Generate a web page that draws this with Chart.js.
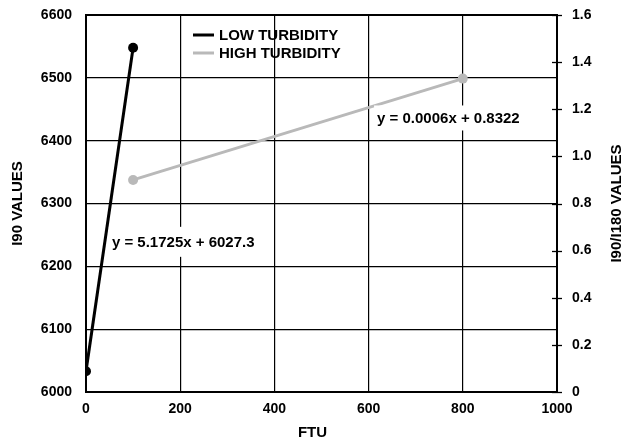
<!DOCTYPE html>
<html><head><meta charset="utf-8">
<script src="https://cdn.jsdelivr.net/npm/chart.js@4/dist/chart.umd.min.js"></script>
<style>html,body{margin:0;padding:0;background:#fff}canvas{display:block}</style>
</head><body><canvas id="c" width="630" height="440"></canvas>
<script>
// ---- data ----
const ftuLow = [0, 100];
const i90Low = [6033, 6548];
const ftuHigh = [100, 800];
const ratioHigh = [0.90, 1.33];
const seriesNames = ['LOW TURBIDITY', 'HIGH TURBIDITY'];
const fitLabels = ['y = 5.1725x + 6027.3', 'y = 0.0006x + 0.8322'];
const axisTitles = ['FTU', 'I90 VALUES', 'I90/I180 VALUES'];

const FONT = '"Liberation Sans", Arial, Helvetica, sans-serif';
Chart.defaults.font.family = FONT;
Chart.defaults.font.weight = 'bold';
Chart.defaults.color = '#000';

const lowData = ftuLow.map((x, i) => ({x: x, y: i90Low[i]}));
const highData = ftuHigh.map((x, i) => ({x: x, y: ratioHigh[i]}));

const framePlugin = {
  id: 'frame',
  beforeDatasetsDraw(chart) {
    const {ctx, chartArea: a} = chart;
    ctx.save();
    ctx.strokeStyle = '#000';
    ctx.lineWidth = 2;
    ctx.strokeRect(a.left, a.top, a.right - a.left, a.bottom - a.top);
    // right axis tick marks crossing the border
    const s = chart.scales.y1;
    ctx.lineWidth = 1.3;
    s.ticks.forEach(t => {
      const y = Math.round(s.getPixelForValue(t.value)) + 0.5;
      ctx.beginPath();
      ctx.moveTo(a.right - 5, y);
      ctx.lineTo(a.right + 5, y);
      ctx.stroke();
    });
    ctx.font = 'bold 15px ' + FONT;
    ctx.fillStyle = '#000';
    ctx.textAlign = 'center';
    ctx.textBaseline = 'middle';
    // x axis title
    ctx.fillText(axisTitles[0], (a.left + a.right) / 2 - 9, chart.height - 7);
    // right axis title, reading bottom to top
    ctx.translate(s.right - 13, (a.top + a.bottom) / 2);
    ctx.rotate(-Math.PI / 2);
    ctx.fillText(axisTitles[2], 0, 0);
    ctx.restore();
  }
};

const overlayPlugin = {
  id: 'overlay',
  afterDatasetsDraw(chart, args, opts) {
    const {ctx, chartArea: a} = chart;
    ctx.save();
    ctx.font = 'bold 15px ' + FONT;
    ctx.textBaseline = 'middle';
    ctx.textAlign = 'left';
    opts.notes.forEach(n => {
      const xs = chart.scales.x, ys = chart.scales[n.axis];
      const px = xs.getPixelForValue(n.x), py = ys.getPixelForValue(n.y);
      const w = ctx.measureText(n.text).width;
      ctx.fillStyle = '#fff';
      ctx.fillRect(px - 3, py - n.h / 2, w + 6, n.h);
      ctx.fillStyle = '#000';
      ctx.fillText(n.text, px, py + 1);
    });
    // legend
    const lx = a.left + 107, ly = a.top + 20;
    chart.data.datasets.forEach((d, i) => {
      const y = ly + i * 18;
      ctx.strokeStyle = d.borderColor;
      ctx.lineWidth = 3;
      ctx.beginPath();
      ctx.moveTo(lx, y);
      ctx.lineTo(lx + 21, y);
      ctx.stroke();
      ctx.fillStyle = '#000';
      ctx.fillText(d.label, lx + 26, y + 1);
    });
    ctx.restore();
  }
};

function fixV(w) {
  return function (s) { s.width = w; s.paddingTop = 8; s.paddingBottom = 8; };
}

new Chart(document.getElementById('c'), {
  type: 'line',
  data: {
    datasets: [
      {label: seriesNames[0], data: lowData, yAxisID: 'y', borderColor: '#000', backgroundColor: '#000',
       borderWidth: 3, pointRadius: 5, pointBackgroundColor: '#000', pointBorderWidth: 0, tension: 0},
      {label: seriesNames[1], data: highData, yAxisID: 'y1', borderColor: '#b9b9b9', backgroundColor: '#b9b9b9',
       borderWidth: 3, pointRadius: 5, pointBackgroundColor: '#b9b9b9', pointBorderWidth: 0, tension: 0}
    ]
  },
  options: {
    responsive: false,
    animation: false,
    layout: {padding: {top: 15, left: 0, right: 0, bottom: 0}},
    plugins: {
      legend: {display: false},
      tooltip: {enabled: false},
      overlay: {
        notes: [
          {text: fitLabels[0], axis: 'y', x: 55, y: 6239, h: 30},
          {text: fitLabels[1], axis: 'y1', x: 618, y: 1.163, h: 25}
        ]
      }
    },
    scales: {
      x: {
        type: 'linear', position: 'bottom', min: 0, max: 1000,
        ticks: {stepSize: 200, padding: 9, font: {size: 14, weight: 'bold'}, maxRotation: 0,
          callback: v => String(v)},
        grid: {color: '#000', lineWidth: 1.2, drawTicks: false},
        border: {display: false},
        title: {display: false},
        afterFit(s) { s.height = 48; }
      },
      y: {
        type: 'linear', position: 'left', min: 6000, max: 6600,
        ticks: {stepSize: 100, padding: 14, font: {size: 14, weight: 'bold'}, callback: v => String(v)},
        grid: {color: '#000', lineWidth: 1.2, drawTicks: false},
        border: {display: false},
        title: {display: true, text: axisTitles[1], font: {size: 15, weight: 'bold', lineHeight: 1}, padding: {top: 10.5, bottom: 0}},
        afterFit: fixV(86)
      },
      y1: {
        type: 'linear', position: 'right', min: 0, max: 1.6,
        ticks: {stepSize: 0.2, padding: 15, font: {size: 14, weight: 'bold'},
          callback: v => (Math.abs(v) < 1e-9 ? '0' : v.toFixed(1))},
        grid: {drawOnChartArea: false, drawTicks: false},
        border: {display: false},
        title: {display: false},
        afterFit: fixV(73)
      }
    }
  },
  plugins: [framePlugin, overlayPlugin]
});
</script>
</body></html>
